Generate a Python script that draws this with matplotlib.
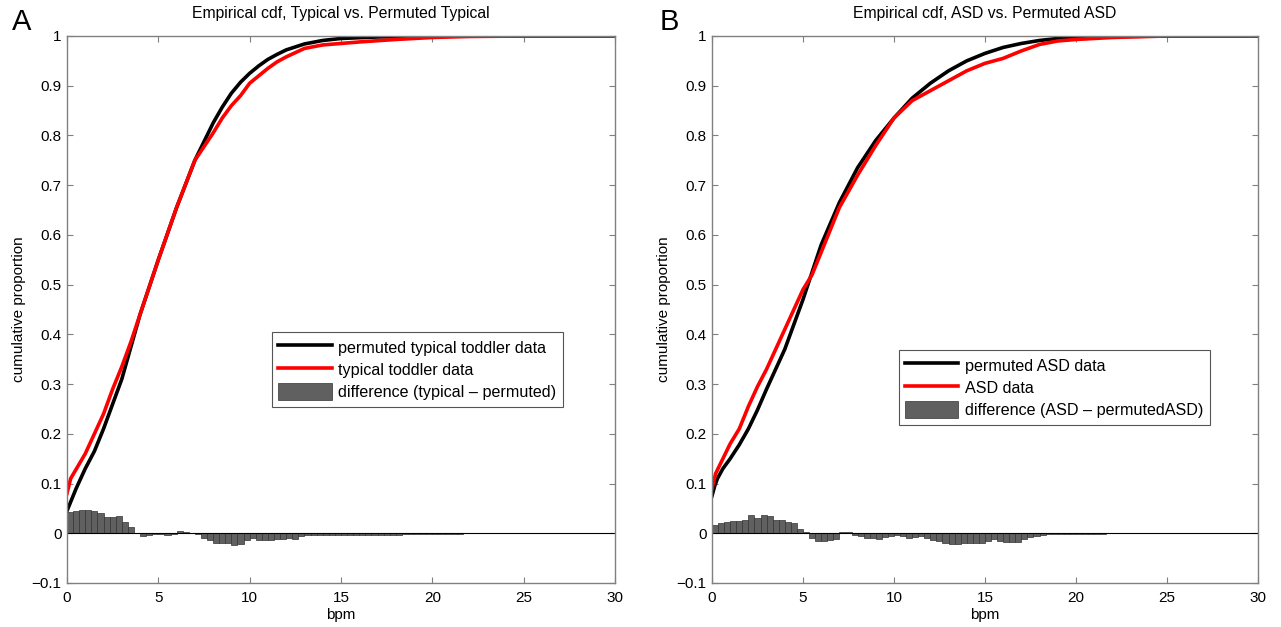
import matplotlib
matplotlib.use('Agg')
import matplotlib.pyplot as plt
from matplotlib.lines import Line2D
from matplotlib.patches import Patch
import numpy as np

plt.rcParams['font.family'] = ['Liberation Sans', 'DejaVu Sans']

# --- data ---
bin_width = 1 / 3

# panel A: typical vs permuted typical
a_perm_x = [0, 0.5, 1, 1.5, 2, 2.5, 3, 3.5, 4, 5, 6, 7, 8, 8.5, 9, 9.5, 10, 10.5, 11, 11.5,
            12, 13, 14, 15, 17, 20, 30]
a_perm_y = [0.045, 0.09, 0.13, 0.165, 0.21, 0.26, 0.31, 0.375, 0.44, 0.55, 0.655, 0.75, 0.825,
            0.857, 0.885, 0.907, 0.925, 0.94, 0.953, 0.963, 0.972, 0.984, 0.991, 0.995, 0.998,
            1.0, 1.0]
a_typ_x = [0, 0.2, 1, 2, 2.5, 3, 3.5, 4, 5, 6, 7, 8, 8.5, 9, 9.5, 10, 10.5, 11, 11.5, 12, 13, 14,
           15, 16, 18, 20, 22, 25, 30]
a_typ_y = [0.08, 0.11, 0.16, 0.24, 0.29, 0.335, 0.385, 0.44, 0.55, 0.655, 0.75, 0.805, 0.835,
           0.86, 0.88, 0.905, 0.92, 0.935, 0.948, 0.958, 0.975, 0.982, 0.985, 0.988, 0.993,
           0.997, 0.999, 1.0, 1.0]
a_diff = [0.043, 0.045, 0.047, 0.046, 0.044, 0.041, 0.033, 0.033, 0.034, 0.023,
          0.013, 0.001, -0.005, -0.003, -0.001, -0.002, -0.004, -0.002, 0.005, 0.003,
          0.001, -0.001, -0.009, -0.014, -0.019, -0.019, -0.020, -0.024, -0.022, -0.014,
          -0.009, -0.013, -0.014, -0.013, -0.011, -0.011, -0.009, -0.011, -0.005, -0.004,
          -0.003, -0.003, -0.004, -0.004, -0.003, -0.004, -0.003, -0.004, -0.004, -0.003,
          -0.003, -0.004, -0.003, -0.003, -0.003, -0.002, -0.002, -0.002, -0.002, -0.002,
          -0.001, -0.001, -0.001, -0.001, -0.001] + [0.0] * 25

# panel B: ASD vs permuted ASD
b_perm_x = [0, 0.15, 0.3, 0.6, 1, 1.5, 2, 2.5, 3, 4, 5, 6, 7, 8, 9, 10, 11, 12, 13, 14, 15, 16,
            17, 18, 19, 20, 22, 25, 30]
b_perm_y = [0.075, 0.095, 0.11, 0.13, 0.15, 0.178, 0.21, 0.248, 0.29, 0.37, 0.47, 0.58, 0.665,
            0.735, 0.79, 0.835, 0.875, 0.905, 0.93, 0.95, 0.965, 0.977, 0.985, 0.991, 0.995,
            0.997, 0.999, 1.0, 1.0]
b_asd_x = [0, 0.2, 0.6, 1, 1.5, 2, 2.5, 3, 4, 5, 5.5, 6, 7, 8, 9, 10, 11, 12, 13, 14, 15, 16, 17,
           18, 19, 20, 22, 25, 30]
b_asd_y = [0.09, 0.12, 0.15, 0.18, 0.21, 0.255, 0.295, 0.33, 0.41, 0.49, 0.52, 0.565, 0.655,
           0.72, 0.78, 0.835, 0.87, 0.89, 0.91, 0.93, 0.945, 0.955, 0.97, 0.983, 0.99, 0.993,
           0.997, 1.0, 1.0]
b_diff = [0.017, 0.021, 0.023, 0.025, 0.025, 0.026, 0.037, 0.030, 0.037, 0.034,
          0.027, 0.027, 0.022, 0.021, 0.009, 0.003, -0.010, -0.015, -0.015, -0.013,
          -0.011, 0.003, 0.002, -0.003, -0.005, -0.010, -0.009, -0.011, -0.008, -0.005,
          -0.003, -0.005, -0.009, -0.007, -0.006, -0.009, -0.013, -0.015, -0.020, -0.021,
          -0.021, -0.020, -0.020, -0.019, -0.019, -0.015, -0.012, -0.015, -0.018, -0.018,
          -0.017, -0.012, -0.008, -0.005, -0.003, -0.002, -0.002, -0.001, -0.001, -0.001,
          -0.001, -0.001, -0.001, -0.001, -0.001, 0.001, 0.001, 0.001, 0.001, 0.001,
          0.001] + [0.0] * 19

panels = [
    dict(label='A', title='Empirical cdf, Typical vs. Permuted Typical',
         perm=(a_perm_x, a_perm_y), real=(a_typ_x, a_typ_y), diff=a_diff,
         names=['permuted typical toddler data', 'typical toddler data',
                'difference (typical \u2013 permuted)'],
         rect=[0.0523, 0.0702, 0.4278, 0.8724], leg=(0.374, 0.459)),
    dict(label='B', title='Empirical cdf, ASD vs. Permuted ASD',
         perm=(b_perm_x, b_perm_y), real=(b_asd_x, b_asd_y), diff=b_diff,
         names=['permuted ASD data', 'ASD data', 'difference (ASD \u2013 permutedASD)'],
         rect=[0.5558, 0.0702, 0.4262, 0.8724], leg=(0.342, 0.426)),
]

fig = plt.figure(figsize=(12.81, 6.27), dpi=100)
label_x = [0.0094, 0.515]

for i, p in enumerate(panels):
    ax = fig.add_axes(p['rect'])
    edges = np.arange(len(p['diff'])) * bin_width
    ax.bar(edges, p['diff'], width=bin_width, align='edge', color='#606060',
           edgecolor='#333333', linewidth=0.5)
    ax.axhline(0, color='black', linewidth=0.8)
    ax.plot(p['perm'][0], p['perm'][1], color='black', linewidth=2.6)
    ax.plot(p['real'][0], p['real'][1], color='red', linewidth=2.6)

    ax.set_xlim(0, 30)
    ax.set_ylim(-0.1, 1)
    ax.set_xticks([0, 5, 10, 15, 20, 25, 30])
    ax.set_yticks(np.round(np.arange(-0.1, 1.01, 0.1), 1))
    ax.set_yticklabels(['\u22120.1', '0', '0.1', '0.2', '0.3', '0.4', '0.5', '0.6', '0.7',
                        '0.8', '0.9', '1'])
    ax.tick_params(direction='in', top=True, right=True, length=4, width=0.8,
                   color='#808080', labelsize=11)
    ax.tick_params(axis='x', pad=6)
    ax.tick_params(axis='y', pad=4)
    for s in ax.spines.values():
        s.set_color('#808080')
        s.set_linewidth(1.0)
    ax.set_xlabel('bpm', fontsize=11, labelpad=2)
    ax.set_ylabel('cumulative proportion', fontsize=11, labelpad=4)
    ax.set_title(p['title'], fontsize=11.3, pad=13)

    handles = [Line2D([], [], color='black', linewidth=2.6),
               Line2D([], [], color='red', linewidth=2.6),
               Patch(facecolor='#606060', edgecolor='#333333', linewidth=0.5)]
    leg = ax.legend(handles, p['names'], loc='upper left', bbox_to_anchor=p['leg'],
                    borderaxespad=0, fontsize=11.6, fancybox=False, framealpha=1,
                    handlelength=3.3, handleheight=1.3, handletextpad=0.4,
                    labelspacing=0.28, borderpad=0.4)
    leg.get_frame().set_edgecolor('#555555')
    leg.get_frame().set_linewidth(0.8)

    fig.text(label_x[i], 0.965, p['label'], fontsize=21, ha='left', va='center')

fig.savefig('out.png', dpi=100)
